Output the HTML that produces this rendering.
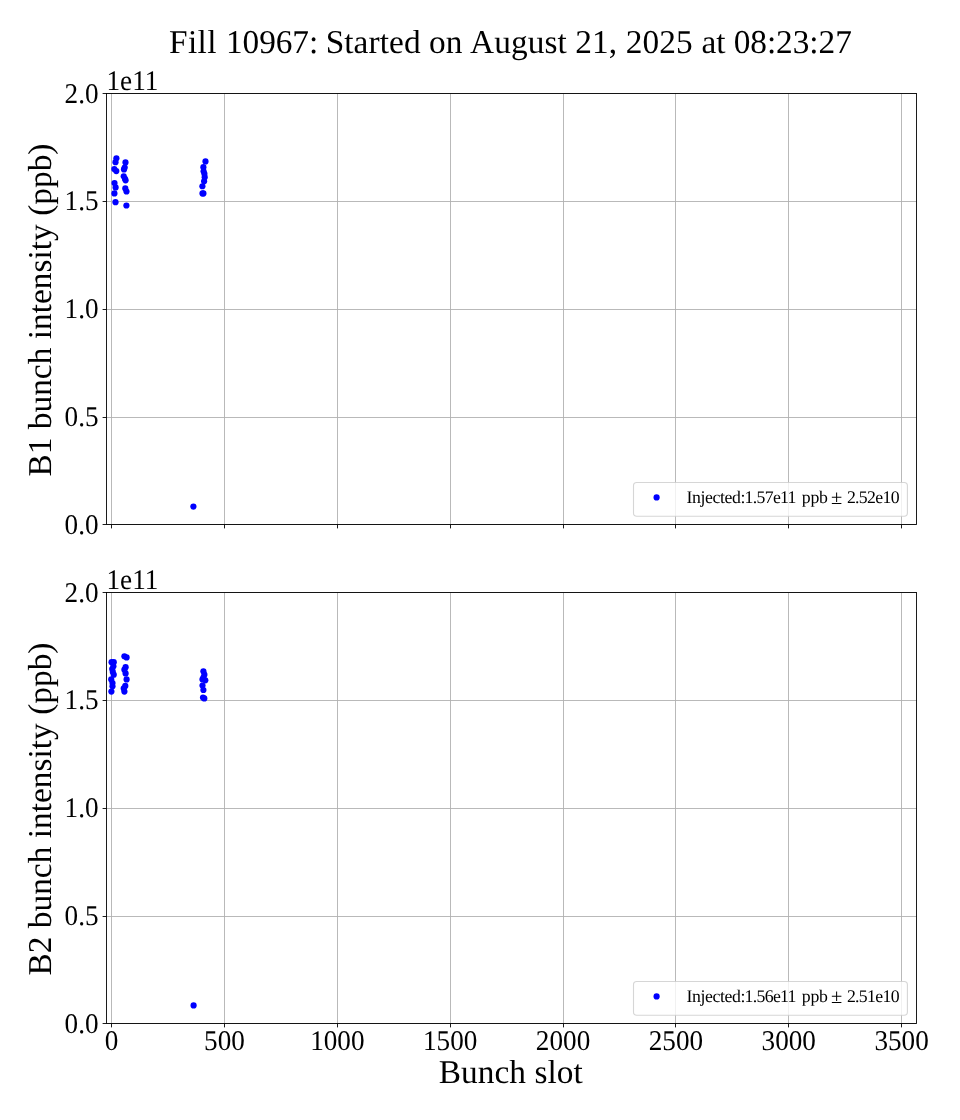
<!DOCTYPE html>
<html lang="en">
<head>
<meta charset="utf-8">
<title>Fill 10967</title>
<style>
html,body{margin:0;padding:0;background:#fff;}
body{width:960px;height:1120px;overflow:hidden;}
svg{display:block;font-family:'Liberation Serif', 'DejaVu Serif', serif;will-change:transform;transform:translateZ(0);text-rendering:geometricPrecision;}
.g{stroke:#b0b0b0;stroke-width:0.89;}
.t{stroke:#000;stroke-width:0.89;}
.s{fill:none;stroke:#000;stroke-width:0.89;}
.d{fill:#0000ff;}
.tl{font-size:27.2px;fill:#000;}
.al{font-size:33.33px;fill:#000;}
.ti{font-size:33.33px;fill:#000;}
.lt{font-size:17.78px;fill:#000;}
.lg{fill:#fff;fill-opacity:0.8;stroke:#ccc;stroke-opacity:0.8;stroke-width:1.11;}
</style>
</head>
<body>
<svg width="960" height="1120" viewBox="0 0 960 1120">
<text y="53" class="ti"><tspan x="169.0" style="letter-spacing:0.385px">Fill </tspan><tspan x="226.0" style="letter-spacing:-0.085px">10967: </tspan><tspan x="325.65" style="letter-spacing:0.085px">Started on </tspan><tspan x="470.1" style="letter-spacing:0.085px">August 21, 2025 </tspan><tspan x="701.4" style="letter-spacing:-0.045px">at 08:23:27</tspan></text>
<line x1="111.5" y1="93.5" x2="111.5" y2="524.5" class="g"/>
<line x1="224.5" y1="93.5" x2="224.5" y2="524.5" class="g"/>
<line x1="337.5" y1="93.5" x2="337.5" y2="524.5" class="g"/>
<line x1="450.5" y1="93.5" x2="450.5" y2="524.5" class="g"/>
<line x1="563.5" y1="93.5" x2="563.5" y2="524.5" class="g"/>
<line x1="675.5" y1="93.5" x2="675.5" y2="524.5" class="g"/>
<line x1="788.5" y1="93.5" x2="788.5" y2="524.5" class="g"/>
<line x1="901.5" y1="93.5" x2="901.5" y2="524.5" class="g"/>
<line x1="106.5" y1="524.5" x2="916.5" y2="524.5" class="g"/>
<line x1="106.5" y1="417.5" x2="916.5" y2="417.5" class="g"/>
<line x1="106.5" y1="309.5" x2="916.5" y2="309.5" class="g"/>
<line x1="106.5" y1="201.5" x2="916.5" y2="201.5" class="g"/>
<line x1="106.5" y1="93.5" x2="916.5" y2="93.5" class="g"/>
<circle cx="116.4" cy="158.25" r="3.1" class="d"/>
<circle cx="115.5" cy="162.2" r="3.1" class="d"/>
<circle cx="114.3" cy="169.1" r="3.1" class="d"/>
<circle cx="116.3" cy="171.1" r="3.1" class="d"/>
<circle cx="114.5" cy="183" r="3.1" class="d"/>
<circle cx="115.6" cy="187.4" r="3.1" class="d"/>
<circle cx="114.4" cy="193.4" r="3.1" class="d"/>
<circle cx="115.5" cy="202.2" r="3.1" class="d"/>
<circle cx="125.5" cy="162.4" r="3.1" class="d"/>
<circle cx="124.7" cy="167.5" r="3.1" class="d"/>
<circle cx="124" cy="169.4" r="3.1" class="d"/>
<circle cx="123.75" cy="176.25" r="3.1" class="d"/>
<circle cx="125" cy="178.75" r="3.1" class="d"/>
<circle cx="125.6" cy="180.3" r="3.1" class="d"/>
<circle cx="125.3" cy="188.4" r="3.1" class="d"/>
<circle cx="126.5" cy="191.5" r="3.1" class="d"/>
<circle cx="126.4" cy="205.5" r="3.1" class="d"/>
<circle cx="205.5" cy="161.4" r="3.1" class="d"/>
<circle cx="203.4" cy="167.2" r="3.1" class="d"/>
<circle cx="203.6" cy="171.25" r="3.1" class="d"/>
<circle cx="204.4" cy="173.75" r="3.1" class="d"/>
<circle cx="204.7" cy="177.2" r="3.1" class="d"/>
<circle cx="204.1" cy="181.25" r="3.1" class="d"/>
<circle cx="202.4" cy="186.25" r="3.1" class="d"/>
<circle cx="202.5" cy="193.4" r="3.1" class="d"/>
<circle cx="203.4" cy="193.4" r="3.1" class="d"/>
<circle cx="193.4" cy="506.6" r="3.1" class="d"/>
<line x1="111.5" y1="524.5" x2="111.5" y2="528.4" class="t"/>
<line x1="224.5" y1="524.5" x2="224.5" y2="528.4" class="t"/>
<line x1="337.5" y1="524.5" x2="337.5" y2="528.4" class="t"/>
<line x1="450.5" y1="524.5" x2="450.5" y2="528.4" class="t"/>
<line x1="563.5" y1="524.5" x2="563.5" y2="528.4" class="t"/>
<line x1="675.5" y1="524.5" x2="675.5" y2="528.4" class="t"/>
<line x1="788.5" y1="524.5" x2="788.5" y2="528.4" class="t"/>
<line x1="901.5" y1="524.5" x2="901.5" y2="528.4" class="t"/>
<line x1="102.6" y1="524.5" x2="106.5" y2="524.5" class="t"/>
<text transform="translate(98.60,533.73) scale(1,1.05)" class="tl" text-anchor="end">0.0</text>
<line x1="102.6" y1="417.5" x2="106.5" y2="417.5" class="t"/>
<text transform="translate(98.60,425.98) scale(1,1.05)" class="tl" text-anchor="end">0.5</text>
<line x1="102.6" y1="309.5" x2="106.5" y2="309.5" class="t"/>
<text transform="translate(98.60,318.23) scale(1,1.05)" class="tl" text-anchor="end">1.0</text>
<line x1="102.6" y1="201.5" x2="106.5" y2="201.5" class="t"/>
<text transform="translate(98.60,210.48) scale(1,1.05)" class="tl" text-anchor="end">1.5</text>
<line x1="102.6" y1="93.5" x2="106.5" y2="93.5" class="t"/>
<text transform="translate(98.60,102.73) scale(1,1.05)" class="tl" text-anchor="end">2.0</text>
<rect x="106.5" y="93.5" width="810.0" height="431.0" class="s"/>
<text transform="translate(106.50,90.10) scale(1,1.05)" class="tl">1e11</text>
<text transform="translate(51,310.05) rotate(-90)" class="al" text-anchor="middle" style="letter-spacing:0.03px">B1 bunch intensity (ppb)</text>
<rect x="633.5" y="482.45" width="273.9" height="33.75" rx="3.2" ry="3.2" class="lg"/>
<circle cx="656.6" cy="497.40" r="3.1" class="d"/>
<text y="502.90" class="lt"><tspan x="686.6" style="letter-spacing:-0.42px">Injected:</tspan><tspan x="744.6" style="letter-spacing:-0.7px">1.57e11 </tspan><tspan x="801.8" style="letter-spacing:-0.25px">ppb </tspan><tspan x="831.0" dy="1" style="font-size:20.5px">± </tspan><tspan x="846.9" dy="-1" style="letter-spacing:-0.68px">2.52e10</tspan></text>
<line x1="111.5" y1="592.5" x2="111.5" y2="1023.5" class="g"/>
<line x1="224.5" y1="592.5" x2="224.5" y2="1023.5" class="g"/>
<line x1="337.5" y1="592.5" x2="337.5" y2="1023.5" class="g"/>
<line x1="450.5" y1="592.5" x2="450.5" y2="1023.5" class="g"/>
<line x1="563.5" y1="592.5" x2="563.5" y2="1023.5" class="g"/>
<line x1="675.5" y1="592.5" x2="675.5" y2="1023.5" class="g"/>
<line x1="788.5" y1="592.5" x2="788.5" y2="1023.5" class="g"/>
<line x1="901.5" y1="592.5" x2="901.5" y2="1023.5" class="g"/>
<line x1="106.5" y1="1023.5" x2="916.5" y2="1023.5" class="g"/>
<line x1="106.5" y1="916.5" x2="916.5" y2="916.5" class="g"/>
<line x1="106.5" y1="808.5" x2="916.5" y2="808.5" class="g"/>
<line x1="106.5" y1="700.5" x2="916.5" y2="700.5" class="g"/>
<line x1="106.5" y1="592.5" x2="916.5" y2="592.5" class="g"/>
<circle cx="111.6" cy="662.2" r="3.1" class="d"/>
<circle cx="113.75" cy="662.2" r="3.1" class="d"/>
<circle cx="113.4" cy="666.25" r="3.1" class="d"/>
<circle cx="112.2" cy="669" r="3.1" class="d"/>
<circle cx="112.8" cy="671.9" r="3.1" class="d"/>
<circle cx="113.75" cy="674.7" r="3.1" class="d"/>
<circle cx="111.25" cy="679.4" r="3.1" class="d"/>
<circle cx="112.5" cy="683.1" r="3.1" class="d"/>
<circle cx="112.5" cy="686.25" r="3.1" class="d"/>
<circle cx="111.4" cy="691.6" r="3.1" class="d"/>
<circle cx="124.4" cy="656.25" r="3.1" class="d"/>
<circle cx="126.6" cy="657.4" r="3.1" class="d"/>
<circle cx="125.6" cy="667.2" r="3.1" class="d"/>
<circle cx="124.4" cy="669.7" r="3.1" class="d"/>
<circle cx="125.6" cy="673.4" r="3.1" class="d"/>
<circle cx="126.6" cy="679.4" r="3.1" class="d"/>
<circle cx="125.3" cy="685.9" r="3.1" class="d"/>
<circle cx="123.75" cy="688.4" r="3.1" class="d"/>
<circle cx="124.4" cy="691.6" r="3.1" class="d"/>
<circle cx="203.4" cy="671.25" r="3.1" class="d"/>
<circle cx="204.4" cy="674.7" r="3.1" class="d"/>
<circle cx="203.4" cy="677.5" r="3.1" class="d"/>
<circle cx="202.5" cy="679.4" r="3.1" class="d"/>
<circle cx="205.3" cy="680.3" r="3.1" class="d"/>
<circle cx="202.5" cy="685.6" r="3.1" class="d"/>
<circle cx="203.4" cy="690" r="3.1" class="d"/>
<circle cx="203.0" cy="697.6" r="3.1" class="d"/>
<circle cx="204.3" cy="698.4" r="3.1" class="d"/>
<circle cx="193.6" cy="1005.4" r="3.1" class="d"/>
<line x1="111.5" y1="1023.5" x2="111.5" y2="1027.4" class="t"/>
<line x1="224.5" y1="1023.5" x2="224.5" y2="1027.4" class="t"/>
<line x1="337.5" y1="1023.5" x2="337.5" y2="1027.4" class="t"/>
<line x1="450.5" y1="1023.5" x2="450.5" y2="1027.4" class="t"/>
<line x1="563.5" y1="1023.5" x2="563.5" y2="1027.4" class="t"/>
<line x1="675.5" y1="1023.5" x2="675.5" y2="1027.4" class="t"/>
<line x1="788.5" y1="1023.5" x2="788.5" y2="1027.4" class="t"/>
<line x1="901.5" y1="1023.5" x2="901.5" y2="1027.4" class="t"/>
<line x1="102.6" y1="1023.5" x2="106.5" y2="1023.5" class="t"/>
<text transform="translate(98.60,1032.73) scale(1,1.05)" class="tl" text-anchor="end">0.0</text>
<line x1="102.6" y1="916.5" x2="106.5" y2="916.5" class="t"/>
<text transform="translate(98.60,924.98) scale(1,1.05)" class="tl" text-anchor="end">0.5</text>
<line x1="102.6" y1="808.5" x2="106.5" y2="808.5" class="t"/>
<text transform="translate(98.60,817.23) scale(1,1.05)" class="tl" text-anchor="end">1.0</text>
<line x1="102.6" y1="700.5" x2="106.5" y2="700.5" class="t"/>
<text transform="translate(98.60,709.48) scale(1,1.05)" class="tl" text-anchor="end">1.5</text>
<line x1="102.6" y1="592.5" x2="106.5" y2="592.5" class="t"/>
<text transform="translate(98.60,601.73) scale(1,1.05)" class="tl" text-anchor="end">2.0</text>
<text transform="translate(111.60,1049.60) scale(1,1.05)" class="tl" text-anchor="middle">0</text>
<text transform="translate(224.46,1049.60) scale(1,1.05)" class="tl" text-anchor="middle">500</text>
<text transform="translate(337.32,1049.60) scale(1,1.05)" class="tl" text-anchor="middle">1000</text>
<text transform="translate(450.18,1049.60) scale(1,1.05)" class="tl" text-anchor="middle">1500</text>
<text transform="translate(563.04,1049.60) scale(1,1.05)" class="tl" text-anchor="middle">2000</text>
<text transform="translate(675.90,1049.60) scale(1,1.05)" class="tl" text-anchor="middle">2500</text>
<text transform="translate(788.76,1049.60) scale(1,1.05)" class="tl" text-anchor="middle">3000</text>
<text transform="translate(901.62,1049.60) scale(1,1.05)" class="tl" text-anchor="middle">3500</text>
<rect x="106.5" y="592.5" width="810.0" height="431.0" class="s"/>
<text transform="translate(106.50,589.10) scale(1,1.05)" class="tl">1e11</text>
<text transform="translate(51,809.05) rotate(-90)" class="al" text-anchor="middle" style="letter-spacing:0.03px">B2 bunch intensity (ppb)</text>
<rect x="633.5" y="981.45" width="273.9" height="33.75" rx="3.2" ry="3.2" class="lg"/>
<circle cx="656.6" cy="996.40" r="3.1" class="d"/>
<text y="1001.90" class="lt"><tspan x="686.6" style="letter-spacing:-0.42px">Injected:</tspan><tspan x="744.6" style="letter-spacing:-0.7px">1.56e11 </tspan><tspan x="801.8" style="letter-spacing:-0.25px">ppb </tspan><tspan x="831.0" dy="1" style="font-size:20.5px">± </tspan><tspan x="846.9" dy="-1" style="letter-spacing:-0.68px">2.51e10</tspan></text>
<text x="510.8" y="1083" class="al" text-anchor="middle" style="letter-spacing:0.05px">Bunch slot</text>
</svg>
</body>
</html>
